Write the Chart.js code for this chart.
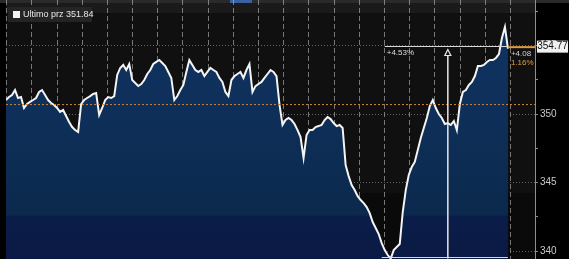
<!DOCTYPE html>
<html>
<head>
<meta charset="utf-8">
<script src="https://cdn.jsdelivr.net/npm/chart.js@4.4.0/dist/chart.umd.min.js"></script>
<style>
  html, body { margin: 0; padding: 0; background: #000; }
  #c { display: block; }
</style>
</head>
<body>
<canvas id="c" width="569" height="259"></canvas>
<script>
// ---- data ----
const prices = [
  351.02, 351.24, 351.39, 351.75, 351.17, 351.24, 350.44, 350.73, 350.88, 351.02,
  351.17, 351.61, 351.75, 351.39, 351.02, 350.80, 350.66, 350.44, 350.15, 350.29,
  349.85, 349.42, 349.05, 348.83, 348.69, 350.73, 351.02, 351.17, 351.31, 351.46,
  351.53, 349.93, 350.44, 351.02, 351.24, 351.17, 351.31, 352.85, 353.36, 353.58,
  353.21, 353.65, 352.48, 352.26, 352.04, 352.19, 352.48, 352.92, 353.21, 353.65,
  353.80, 353.94, 353.72, 353.50, 353.07, 352.63, 351.02, 351.31, 351.75, 352.12,
  353.07, 353.94, 353.58, 353.21, 353.07, 353.21, 352.77, 353.07, 353.36, 353.21,
  353.07, 352.63, 352.34, 351.61, 351.31, 352.48, 352.77, 352.92, 353.07, 352.63,
  353.21, 353.65, 351.61, 352.04, 352.19, 352.34, 352.63, 352.92, 353.21, 353.07,
  352.77, 350.66, 349.20, 349.56, 349.71, 349.56, 349.27, 348.83, 348.32, 346.79,
  348.47, 348.83, 348.83, 349.05, 349.12, 349.20, 349.56, 349.78, 349.63, 349.34,
  349.12, 349.20, 348.98, 346.28, 345.47, 344.82, 344.45, 344.01, 343.72, 343.50,
  343.21, 342.77, 342.12, 341.68, 341.24, 340.58, 340.07, 339.71, 339.45, 340.07,
  340.29, 340.51, 342.85, 344.45, 345.55, 346.13, 346.50, 347.37, 348.25, 348.98,
  349.71, 350.58, 351.02, 350.44, 350.00, 349.71, 349.27, 349.34, 349.20, 349.49,
  348.83, 350.73, 351.61, 351.75, 352.12, 352.34, 352.77, 353.50, 353.50, 353.58,
  353.80, 353.94, 353.94, 354.09, 354.38, 355.55, 356.35, 354.77
];
const yTicks = [340, 342.5, 345, 347.5, 350, 352.5, 355, 357.5];
const xGridSteps = [0.2, 8.58, 16.97, 25.35, 33.73, 42.12, 50.5, 58.88, 67.27, 75.65, 84.03,
  92.42, 100.8, 109.18, 117.57, 125.95, 134.33, 142.72, 151.1, 159.48, 167.87, 176.25];
const prevClose = 350.69;
const lastPrice = 354.77;
const lastLabel = '354.77';
const changeLabel = '+4.08';
const changePctLabel = '1.16%';
const measureLabel = '+4.53%';
const measureFrom = 126;
const cursorIndex = 147;
const legendLabel = 'Ultimo prz 351.84';

const FONT = "'Liberation Sans Narrow', 'Liberation Sans', Arial, sans-serif";

const bgPlugin = {
  id: 'bg',
  beforeDraw(chart) {
    const { ctx, chartArea: a, width, height } = chart;
    ctx.save();
    ctx.fillStyle = '#000';
    ctx.fillRect(0, 0, width, height);
    ctx.fillStyle = '#101010';
    ctx.fillRect(a.left, 0, a.right - a.left, 193);
    ctx.fillStyle = '#0a0a0a';
    ctx.fillRect(a.left, 193, a.right - a.left, height - 193);
    ctx.fillStyle = '#1a1a1a';
    ctx.fillRect(a.left, 3, a.right - a.left, 10);
    ctx.fillStyle = '#2a2a2a';
    ctx.fillRect(0, 0, width, 3);
    ctx.fillStyle = '#3b62a0';
    ctx.fillRect(230, 0, 22, 3);
    ctx.restore();
  }
};

const overlayPlugin = {
  id: 'overlay',
  afterDraw(chart) {
    const { ctx, chartArea: a, scales: { x, y } } = chart;
    const lastIdx = prices.length - 1;
    const low = Math.min(...prices);
    const xl = x.getPixelForValue(lastIdx);
    const yl = y.getPixelForValue(lastPrice);
    const yLow = y.getPixelForValue(low);
    const xm = x.getPixelForValue(measureFrom);
    const xc = x.getPixelForValue(cursorIndex);
    ctx.save();
    // measure lines
    ctx.strokeStyle = '#d8d8d8';
    ctx.lineWidth = 1;
    ctx.beginPath();
    ctx.moveTo(xm, Math.round(yl) - 2.5);
    ctx.lineTo(xl, Math.round(yl) - 2.5);
    ctx.moveTo(xm - 3, Math.round(yLow) - 1.5);
    ctx.lineTo(xl, Math.round(yLow) - 1.5);
    ctx.stroke();
    ctx.fillStyle = '#dcdcdc';
    ctx.font = '8px ' + FONT;
    ctx.textBaseline = 'top';
    ctx.textAlign = 'left';
    ctx.fillText(measureLabel, xm + 2, yl);
    // cursor
    const ty = Math.round(yl) + 0.5;
    ctx.beginPath();
    ctx.moveTo(xc, ty);
    ctx.lineTo(xc - 3, ty + 6);
    ctx.lineTo(xc + 3, ty + 6);
    ctx.closePath();
    ctx.lineWidth = 1.2;
    ctx.strokeStyle = '#e8e8e8';
    ctx.stroke();
    ctx.lineWidth = 1.5;
    ctx.beginPath();
    ctx.moveTo(xc, ty + 6);
    ctx.lineTo(xc, yLow);
    ctx.stroke();
    // last price marker
    ctx.strokeStyle = '#e29a3e';
    ctx.lineWidth = 2;
    ctx.beginPath();
    ctx.moveTo(xl, yl - 1.5);
    ctx.lineTo(a.right, yl - 1.5);
    ctx.stroke();
    ctx.fillStyle = '#f0f0f0';
    ctx.fillRect(a.right + 2, yl - 8, 31, 12);
    ctx.fillStyle = '#111';
    ctx.font = '10px ' + FONT;
    ctx.textAlign = 'center';
    ctx.textBaseline = 'middle';
    ctx.fillText(lastLabel, a.right + 17.5, yl - 2);
    ctx.textAlign = 'left';
    ctx.font = '8px ' + FONT;
    ctx.fillStyle = '#d0d0d0';
    ctx.fillText(changeLabel, xl + 3, yl + 5);
    ctx.fillStyle = '#e29a3e';
    ctx.fillText(changePctLabel, xl + 3, yl + 14);
    // legend box
    ctx.fillStyle = 'rgba(38,38,38,0.92)';
    ctx.fillRect(8, 7, 84, 15);
    ctx.fillStyle = '#f4f4f4';
    ctx.fillRect(13, 11, 7, 7);
    ctx.font = '9px ' + FONT;
    ctx.fillStyle = '#e8e8e8';
    ctx.textBaseline = 'middle';
    ctx.fillText(legendLabel, 23, 15);
    ctx.restore();
  }
};

new Chart(document.getElementById('c'), {
  type: 'line',
  data: {
    datasets: [
      {
        data: prices.map((v, i) => ({ x: i, y: v })),
        borderColor: '#f4f4f4',
        borderWidth: 2,
        pointRadius: 0,
        tension: 0,
        fill: 'start',
        order: 1,
        backgroundColor: (c) => {
          const ch = c.chart;
          const area = ch.chartArea;
          if (!area) return '#0c2b4f';
          const g = ch.ctx.createLinearGradient(0, area.top, 0, area.bottom);
          g.addColorStop(0, '#113463');
          g.addColorStop(0.45, '#0e2f59');
          g.addColorStop(0.83, '#0b294c');
          g.addColorStop(0.835, '#0a1d49');
          g.addColorStop(1, '#0a1a44');
          return g;
        }
      },
      {
        data: [{ x: 0, y: prevClose }, { x: 176, y: prevClose }],
        borderColor: '#c9873c',
        borderWidth: 1,
        borderDash: [2, 2],
        pointRadius: 0,
        fill: false,
        order: 0
      }
    ]
  },
  options: {
    responsive: false,
    animation: false,
    devicePixelRatio: 1,
    layout: { padding: { left: 6, top: 0, right: 0, bottom: 0 } },
    plugins: { legend: { display: false }, tooltip: { enabled: false } },
    scales: {
      x: {
        type: 'linear',
        min: 0,
        max: 176,
        z: 1,
        afterBuildTicks: (s) => { s.ticks = xGridSteps.map(v => ({ value: v })); },
        afterFit: (s) => { s.height = 0; s.paddingLeft = 0; s.paddingRight = 0; },
        ticks: { display: false },
        grid: { color: 'rgba(190,190,190,0.6)', lineWidth: 1, drawTicks: false },
        border: { display: false, dash: [5, 3] }
      },
      y: {
        position: 'right',
        min: 339.42,
        max: 358.32,
        z: 1,
        afterBuildTicks: (s) => { s.ticks = yTicks.map(v => ({ value: v })); },
        afterFit: (s) => { s.width = 34; s.paddingTop = 0; s.paddingBottom = 0; },
        ticks: {
          color: '#c8c8c8',
          font: { size: 10, family: FONT },
          padding: 2,
          callback: (v) => (v % 5 === 0 ? String(v) : '')
        },
        grid: {
          color: (c) => (c.tick && c.tick.value % 5 === 0 ? 'rgba(170,170,170,0.55)' : 'rgba(0,0,0,0)'),
          tickColor: '#8a8a8a',
          tickLength: 3,
          lineWidth: 1
        },
        border: { display: true, color: '#8f8f8f', width: 1, dash: [1, 2] }
      }
    }
  },
  plugins: [bgPlugin, overlayPlugin]
});
</script>
</body>
</html>
